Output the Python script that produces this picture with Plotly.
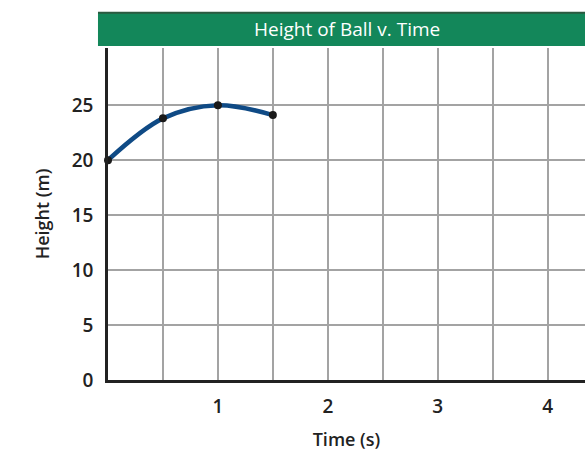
import plotly.graph_objects as go

time_s = [0, 0.5, 1.0, 1.5]
height_m = [20, 23.8, 25.0, 24.1]
x_tick_vals = [1, 2, 3, 4]
y_tick_vals = [0, 5, 10, 15, 20, 25]
title_text = "Height of Ball v. Time"

fig = go.Figure()
fig.add_trace(go.Scatter(
    x=time_s, y=height_m, mode="lines+markers",
    line=dict(color="#0f4a85", width=4.5, shape="spline", smoothing=1.0),
    marker=dict(color="#1a1a1a", size=8),
    showlegend=False, cliponaxis=False,
))

font = "Open Sans, Noto Sans, sans-serif"
fig.update_layout(
    width=585, height=454,
    margin=dict(l=108, r=0, t=48, b=74),
    paper_bgcolor="white", plot_bgcolor="white",
    font=dict(family=font, color="#222"),
)
fig.update_xaxes(
    range=[0, 4.34], tickvals=x_tick_vals, ticktext=[str(v) for v in x_tick_vals],
    showgrid=True, gridcolor="#a3a3a3", gridwidth=1.5,
    minor=dict(dtick=0.5, tick0=0, showgrid=True, gridcolor="#a3a3a3", gridwidth=1.5),
    showline=True, linecolor="#222", linewidth=2.5, zeroline=False,
    tickfont=dict(size=19, family=font, weight=600), ticks="", ticklabelstandoff=7,
    title=dict(text="Time (s)", font=dict(size=18, family=font, weight=600), standoff=16),
)
fig.update_yaxes(
    range=[0, 30.2], tickvals=y_tick_vals, ticktext=[str(v) for v in y_tick_vals],
    showgrid=True, gridcolor="#a3a3a3", gridwidth=1.5,
    showline=True, linecolor="#222", linewidth=2.5, zeroline=False,
    tickfont=dict(size=19, family=font, weight=600), ticks="", ticklabelstandoff=8,
    title=dict(text="Height (m)", font=dict(size=18, family=font, weight=600), standoff=18),
)
# green title banner
fig.add_shape(type="rect", xref="paper", yref="paper",
              x0=-0.021, x1=1.0, y0=1.006, y1=1.108,
              fillcolor="#13875a", line=dict(width=0), layer="above")
fig.add_shape(type="line", xref="paper", yref="paper",
              x0=-0.021, x1=1.0, y0=1.106, y1=1.106,
              line=dict(color="#2b5a40", width=2))
fig.add_annotation(text=title_text, xref="paper", yref="paper",
                   x=0.5, y=1.057, showarrow=False, xanchor="center", yanchor="middle",
                   font=dict(size=19, color="white", family=font, weight=500))

fig.write_html("out.html", config={"displayModeBar": False},
               post_script="document.body.style.margin='0';document.body.style.overflow='hidden';")
